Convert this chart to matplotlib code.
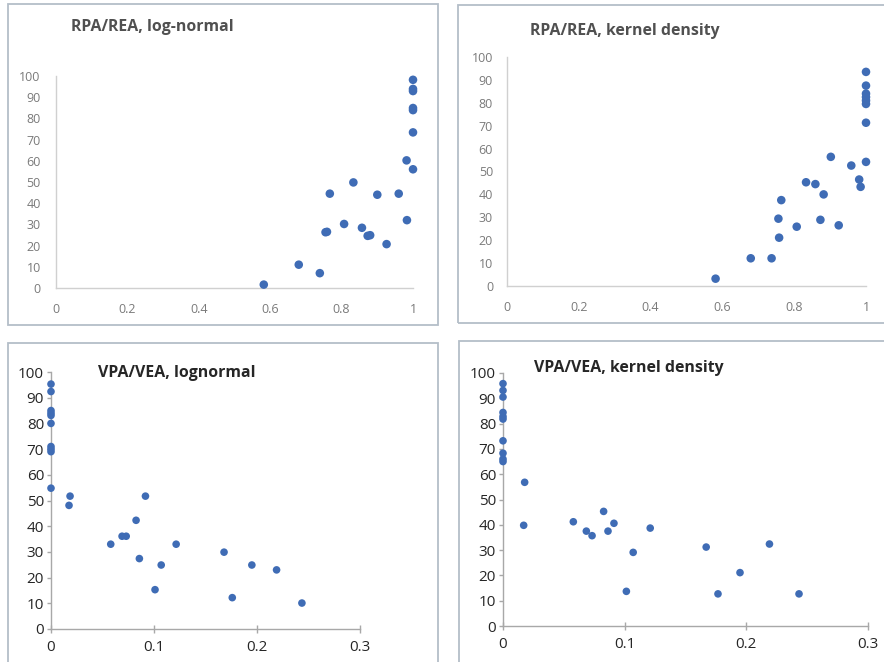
import matplotlib
matplotlib.use("Agg")
import matplotlib.pyplot as plt
from matplotlib.patches import Rectangle

plt.rcParams['font.family'] = ['Open Sans', 'DejaVu Sans']

# ---------------- data ----------------
rr_ln_x = [0.582, 0.680, 0.739, 0.755, 0.759, 0.767, 0.807, 0.833, 0.857, 0.873,
           0.880, 0.900, 0.926, 0.960, 0.982, 0.983,
           1.0, 1.0, 1.0, 1.0, 1.0, 1.0, 1.0]
rr_ln_y = [1.6, 11.0, 7.0, 26.3, 26.5, 44.5, 30.2, 49.8, 28.4, 24.6,
           24.9, 44.0, 20.7, 44.5, 60.2, 32.0,
           56.0, 73.4, 83.9, 84.9, 92.9, 93.9, 98.2]

rr_kd_x = [0.581, 0.679, 0.737, 0.756, 0.758, 0.764, 0.807, 0.833, 0.859, 0.873,
           0.882, 0.902, 0.924, 0.959, 0.981, 0.985,
           1.0, 1.0, 1.0, 1.0, 1.0, 1.0, 1.0, 1.0]
rr_kd_y = [3.2, 12.1, 12.1, 29.4, 21.1, 37.5, 25.9, 45.3, 44.5, 28.9,
           40.0, 56.4, 26.5, 52.6, 46.5, 43.3,
           54.2, 71.3, 79.5, 81.0, 82.5, 84.0, 87.5, 93.5]

vv_ln_x = [0.0, 0.0, 0.0, 0.0, 0.0, 0.0, 0.0, 0.0, 0.0, 0.0,
           0.0185, 0.0175, 0.058, 0.069, 0.073, 0.0826, 0.0858, 0.0917, 0.101, 0.107,
           0.1215, 0.168, 0.176, 0.195, 0.219, 0.2436]
vv_ln_y = [95.3, 92.4, 85.0, 84.0, 83.1, 80.0, 71.0, 70.0, 69.0, 54.8,
           51.7, 48.1, 33.0, 36.1, 36.1, 42.3, 27.4, 51.7, 15.3, 24.9,
           33.0, 29.9, 12.2, 24.9, 23.0, 10.1]

vv_kd_x = [0.0, 0.0, 0.0, 0.0, 0.0, 0.0, 0.0, 0.0, 0.0, 0.0,
           0.0178, 0.017, 0.0578, 0.0685, 0.0732, 0.0827, 0.0863, 0.0912, 0.1014, 0.107,
           0.121, 0.167, 0.1767, 0.1948, 0.219, 0.2433]
vv_kd_y = [95.8, 93.1, 90.5, 84.4, 82.8, 81.8, 73.2, 68.3, 66.0, 65.0,
           56.8, 39.8, 41.2, 37.5, 35.7, 45.3, 37.5, 40.6, 13.7, 29.1,
           38.7, 31.2, 12.7, 21.1, 32.4, 12.7]

titles = ["RPA/REA, log-normal", "RPA/REA, kernel density",
          "VPA/VEA, lognormal", "VPA/VEA, kernel density"]

top_xticks = [0, 0.2, 0.4, 0.6, 0.8, 1]
top_xlabels = ["0", "0.2", "0.4", "0.6", "0.8", "1"]
bot_xticks = [0, 0.1, 0.2, 0.3]
bot_xlabels = ["0", "0.1", "0.2", "0.3"]
yticks = [0, 10, 20, 30, 40, 50, 60, 70, 80, 90, 100]

# ---------------- layout ----------------
W, H = 884, 662
fig = plt.figure(figsize=(W / 100, H / 100), dpi=100)
fig.patch.set_facecolor('white')

def px_rect(x0, y0, x1, y1):
    return [x0 / W, 1 - y1 / H, (x1 - x0) / W, (y1 - y0) / H]

border_col = '#b4bec8'
for (x0, y0, x1, y1) in [(8, 4, 438, 325), (458, 5, 900, 323),
                         (8, 343, 438, 680), (459, 341, 900, 680)]:
    fig.patches.append(Rectangle((x0 / W, 1 - y1 / H), (x1 - x0) / W, (y1 - y0) / H,
                                 transform=fig.transFigure, fill=False,
                                 edgecolor=border_col, linewidth=1.3, clip_on=False))

dot = '#3f6cb5'
axcol = '#d0d0d0'

def style_top(ax, xs, ys, title, tx, ty, ypad):
    ax.scatter(xs, ys, s=38, color=dot, edgecolors='none', zorder=3, clip_on=False)
    ax.set_xlim(0, 1)
    ax.set_ylim(0, 100)
    for s in ['top', 'right']:
        ax.spines[s].set_visible(False)
    for s in ['left', 'bottom']:
        ax.spines[s].set_color(axcol)
        ax.spines[s].set_linewidth(1.0)
    ax.set_xticks(top_xticks)
    ax.set_xticklabels(top_xlabels)
    ax.set_yticks(yticks)
    ax.tick_params(length=0, labelsize=9, colors='#7a7a7a')
    ax.tick_params(axis='x', pad=11)
    ax.tick_params(axis='y', pad=ypad)
    ax.set_facecolor('none')
    fig.text(tx / W, 1 - ty / H, title, fontsize=11.4, fontweight='bold',
             color='#505050', ha='left', va='center')

def style_bot(ax, xs, ys, title, tx, ty):
    ax.scatter(xs, ys, s=30, color=dot, edgecolors='none', zorder=3, clip_on=False)
    ax.set_xlim(0, 0.3)
    ax.set_ylim(0, 100)
    for s in ['top', 'right']:
        ax.spines[s].set_visible(False)
    for s in ['left', 'bottom']:
        ax.spines[s].set_color('#a8a8a8')
        ax.spines[s].set_linewidth(1.0)
    ax.set_xticks(bot_xticks)
    ax.set_xticklabels(bot_xlabels)
    ax.set_yticks(yticks)
    ax.tick_params(axis='y', length=3, width=1, color='#a8a8a8', direction='out',
                   labelsize=11, labelcolor='#262626', pad=2)
    ax.tick_params(axis='x', length=6, width=1, color='#a8a8a8', direction='inout',
                   labelsize=11, labelcolor='#262626', pad=5)
    ax.set_facecolor('none')
    fig.text(tx / W, 1 - ty / H, title, fontsize=11.4, fontweight='bold',
             color='#262626', ha='left', va='center')

ax1 = fig.add_axes(px_rect(56, 76, 413, 288))
style_top(ax1, rr_ln_x, rr_ln_y, titles[0], 71, 27, 11)

ax2 = fig.add_axes(px_rect(507, 57, 866, 286))
style_top(ax2, rr_kd_x, rr_kd_y, titles[1], 530, 31, 10)

ax3 = fig.add_axes(px_rect(51, 372, 360, 629))
style_bot(ax3, vv_ln_x, vv_ln_y, titles[2], 98, 373)

ax4 = fig.add_axes(px_rect(503, 373, 868, 626))
style_bot(ax4, vv_kd_x, vv_kd_y, titles[3], 534, 368)

fig.savefig('out.png', dpi=100, facecolor='white')
